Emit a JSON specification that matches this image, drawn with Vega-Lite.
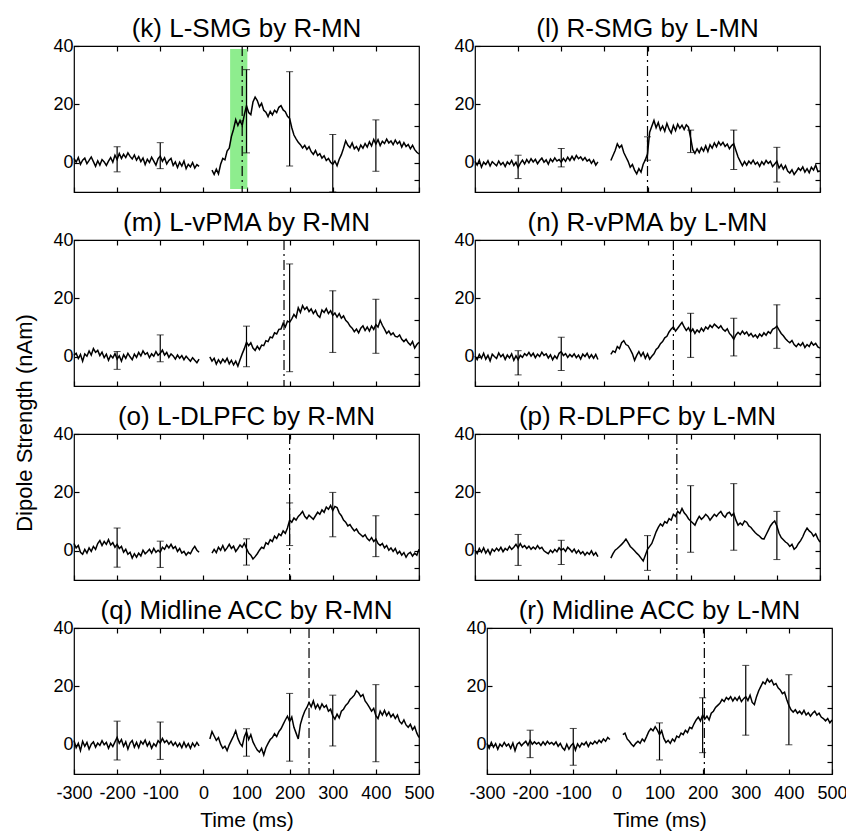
{
 "$schema": "https://vega.github.io/schema/vega-lite/v6.json",
 "padding": {"left": 14, "top": 15, "right": 10, "bottom": 0},
 "background": "white",
 "title": {"text": "Dipole Strength (nAm)", "orient": "left", "anchor": "middle", "fontSize": 22, "offset": -2, "frame": "bounds", "baseline": "alphabetic"},
 "datasets": {
  "k": [{"t":-300,"v":1.5},{"t":-295,"v":0.2},{"t":-290,"v":1.8},{"t":-285,"v":-0.5},{"t":-280,"v":0.9},{"t":-275,"v":1.6},{"t":-270,"v":-0.3},{"t":-265,"v":0.8},{"t":-260,"v":2.0},{"t":-255,"v":0.4},{"t":-250,"v":-1.2},{"t":-245,"v":0.7},{"t":-240,"v":-0.8},{"t":-235,"v":1.1},{"t":-230,"v":0.3},{"t":-225,"v":-0.9},{"t":-220,"v":0.6},{"t":-215,"v":1.8},{"t":-210,"v":0.2},{"t":-205,"v":2.6},{"t":-200,"v":1.1},{"t":-195,"v":3.2},{"t":-190,"v":1.5},{"t":-185,"v":2.9},{"t":-180,"v":1.8},{"t":-175,"v":3.4},{"t":-170,"v":2.2},{"t":-165,"v":1.3},{"t":-160,"v":2.7},{"t":-155,"v":0.9},{"t":-150,"v":2.1},{"t":-145,"v":0.4},{"t":-140,"v":1.6},{"t":-135,"v":-0.6},{"t":-130,"v":1.2},{"t":-125,"v":0.1},{"t":-120,"v":1.9},{"t":-115,"v":0.6},{"t":-110,"v":-0.8},{"t":-105,"v":1.4},{"t":-100,"v":2.3},{"t":-95,"v":0.5},{"t":-90,"v":1.7},{"t":-85,"v":-0.4},{"t":-80,"v":0.8},{"t":-75,"v":1.5},{"t":-70,"v":-0.9},{"t":-65,"v":0.3},{"t":-60,"v":-1.6},{"t":-55,"v":0.2},{"t":-50,"v":-1.1},{"t":-45,"v":0.6},{"t":-40,"v":-2.0},{"t":-35,"v":-0.5},{"t":-30,"v":-1.4},{"t":-25,"v":0.1},{"t":-20,"v":-1.8},{"t":-15,"v":-0.6},{"t":-10,"v":-1.2},{"t":0,"v":null},
   {"t":20,"v":-2.5},{"t":25,"v":-4.0},{"t":30,"v":-2.2},{"t":35,"v":-3.8},{"t":40,"v":-0.5},{"t":45,"v":1.5},{"t":50,"v":1.0},{"t":55,"v":4.0},{"t":60,"v":5.0},{"t":65,"v":9.0},{"t":70,"v":11.5},{"t":75,"v":14.8},{"t":80,"v":12.8},{"t":85,"v":14.5},{"t":90,"v":12.8},{"t":95,"v":16.5},{"t":100,"v":19.5},{"t":105,"v":17.2},{"t":110,"v":16.5},{"t":115,"v":20.8},{"t":120,"v":22.5},{"t":125,"v":21.3},{"t":130,"v":19.2},{"t":135,"v":20.4},{"t":140,"v":18.0},{"t":145,"v":17.3},{"t":150,"v":15.8},{"t":155,"v":17.6},{"t":160,"v":16.4},{"t":165,"v":18.0},{"t":170,"v":17.2},{"t":175,"v":19.0},{"t":180,"v":19.6},{"t":185,"v":18.1},{"t":190,"v":17.5},{"t":195,"v":15.9},{"t":200,"v":15.2},{"t":205,"v":12.0},{"t":210,"v":9.5},{"t":215,"v":8.2},{"t":220,"v":7.0},{"t":225,"v":6.2},{"t":230,"v":5.1},{"t":235,"v":6.0},{"t":240,"v":4.6},{"t":245,"v":5.5},{"t":250,"v":3.8},{"t":255,"v":2.9},{"t":260,"v":4.2},{"t":265,"v":2.5},{"t":270,"v":3.1},{"t":275,"v":1.6},{"t":280,"v":2.4},{"t":285,"v":0.8},{"t":290,"v":1.5},{"t":295,"v":0.2},{"t":300,"v":-0.5},{"t":305,"v":0.6},{"t":310,"v":-1.0},{"t":315,"v":1.2},{"t":320,"v":2.8},{"t":325,"v":5.0},{"t":330,"v":7.5},{"t":335,"v":6.0},{"t":340,"v":5.2},{"t":345,"v":6.8},{"t":350,"v":4.8},{"t":355,"v":5.6},{"t":360,"v":4.2},{"t":365,"v":6.1},{"t":370,"v":5.0},{"t":375,"v":6.6},{"t":380,"v":5.4},{"t":385,"v":7.2},{"t":390,"v":5.8},{"t":395,"v":8.0},{"t":400,"v":6.4},{"t":405,"v":7.9},{"t":410,"v":5.9},{"t":415,"v":7.4},{"t":420,"v":6.6},{"t":425,"v":8.1},{"t":430,"v":6.8},{"t":435,"v":7.5},{"t":440,"v":6.2},{"t":445,"v":7.8},{"t":450,"v":6.5},{"t":455,"v":7.3},{"t":460,"v":5.4},{"t":465,"v":6.9},{"t":470,"v":5.6},{"t":475,"v":6.3},{"t":480,"v":4.8},{"t":485,"v":6.0},{"t":490,"v":4.5},{"t":495,"v":3.6},{"t":500,"v":3.0}],
  "l": [{"t":-300,"v":0.5},{"t":-295,"v":-0.8},{"t":-290,"v":0.9},{"t":-285,"v":-1.5},{"t":-280,"v":0.2},{"t":-275,"v":-0.6},{"t":-270,"v":0.7},{"t":-265,"v":-1.1},{"t":-260,"v":0.4},{"t":-255,"v":-0.3},{"t":-250,"v":-1.0},{"t":-245,"v":0.6},{"t":-240,"v":-0.7},{"t":-235,"v":0.1},{"t":-230,"v":-1.3},{"t":-225,"v":0.3},{"t":-220,"v":-0.5},{"t":-215,"v":0.8},{"t":-210,"v":-0.9},{"t":-205,"v":0.2},{"t":-200,"v":-1.6},{"t":-195,"v":-0.2},{"t":-190,"v":0.9},{"t":-185,"v":-0.4},{"t":-180,"v":1.1},{"t":-175,"v":0.0},{"t":-170,"v":1.4},{"t":-165,"v":0.3},{"t":-160,"v":1.2},{"t":-155,"v":-0.3},{"t":-150,"v":0.8},{"t":-145,"v":1.6},{"t":-140,"v":0.2},{"t":-135,"v":1.0},{"t":-130,"v":-0.5},{"t":-125,"v":1.3},{"t":-120,"v":0.4},{"t":-115,"v":1.7},{"t":-110,"v":0.6},{"t":-105,"v":1.1},{"t":-100,"v":0.2},{"t":-95,"v":1.5},{"t":-90,"v":0.5},{"t":-85,"v":1.9},{"t":-80,"v":0.8},{"t":-75,"v":2.2},{"t":-70,"v":1.0},{"t":-65,"v":2.5},{"t":-60,"v":1.4},{"t":-55,"v":2.0},{"t":-50,"v":0.9},{"t":-45,"v":1.8},{"t":-40,"v":0.6},{"t":-35,"v":1.2},{"t":-30,"v":-0.2},{"t":-25,"v":0.9},{"t":-20,"v":-0.8},{"t":-15,"v":0.3},{"t":0,"v":null},
   {"t":15,"v":0.8},{"t":20,"v":2.5},{"t":25,"v":4.2},{"t":30,"v":6.5},{"t":35,"v":5.2},{"t":40,"v":6.0},{"t":45,"v":3.5},{"t":50,"v":2.0},{"t":55,"v":0.5},{"t":60,"v":-1.5},{"t":65,"v":-0.6},{"t":70,"v":-2.5},{"t":75,"v":-3.8},{"t":80,"v":-2.0},{"t":85,"v":-3.2},{"t":90,"v":-0.5},{"t":95,"v":1.0},{"t":100,"v":3.0},{"t":105,"v":10.5},{"t":110,"v":12.5},{"t":115,"v":14.5},{"t":120,"v":12.0},{"t":125,"v":13.8},{"t":130,"v":11.2},{"t":135,"v":12.6},{"t":140,"v":10.8},{"t":145,"v":13.5},{"t":150,"v":11.5},{"t":155,"v":10.2},{"t":160,"v":12.8},{"t":165,"v":11.0},{"t":170,"v":13.2},{"t":175,"v":11.8},{"t":180,"v":12.9},{"t":185,"v":11.4},{"t":190,"v":13.0},{"t":195,"v":12.2},{"t":200,"v":8.5},{"t":205,"v":4.5},{"t":210,"v":3.2},{"t":215,"v":4.8},{"t":220,"v":3.5},{"t":225,"v":5.2},{"t":230,"v":4.0},{"t":235,"v":5.8},{"t":240,"v":3.9},{"t":245,"v":6.2},{"t":250,"v":5.0},{"t":255,"v":6.8},{"t":260,"v":5.5},{"t":265,"v":7.2},{"t":270,"v":6.0},{"t":275,"v":7.0},{"t":280,"v":5.6},{"t":285,"v":6.4},{"t":290,"v":4.8},{"t":295,"v":5.9},{"t":300,"v":6.5},{"t":305,"v":4.2},{"t":310,"v":2.0},{"t":315,"v":0.5},{"t":320,"v":-1.0},{"t":325,"v":0.4},{"t":330,"v":-0.8},{"t":335,"v":0.6},{"t":340,"v":-0.3},{"t":345,"v":0.9},{"t":350,"v":-0.5},{"t":355,"v":0.2},{"t":360,"v":-1.2},{"t":365,"v":0.4},{"t":370,"v":-0.6},{"t":375,"v":0.8},{"t":380,"v":-0.2},{"t":385,"v":0.5},{"t":390,"v":-1.3},{"t":395,"v":-0.4},{"t":400,"v":0.5},{"t":405,"v":-1.8},{"t":410,"v":-0.6},{"t":415,"v":-2.2},{"t":420,"v":-1.0},{"t":425,"v":-2.8},{"t":430,"v":-3.5},{"t":435,"v":-2.4},{"t":440,"v":-4.0},{"t":445,"v":-3.0},{"t":450,"v":-1.8},{"t":455,"v":-2.6},{"t":460,"v":-1.4},{"t":465,"v":-3.2},{"t":470,"v":-2.0},{"t":475,"v":-3.4},{"t":480,"v":-1.5},{"t":485,"v":-2.5},{"t":490,"v":-0.8},{"t":495,"v":-3.0},{"t":500,"v":-2.8}],
  "m": [{"t":-300,"v":0.5},{"t":-295,"v":1.2},{"t":-290,"v":-0.6},{"t":-285,"v":0.8},{"t":-280,"v":-1.5},{"t":-275,"v":1.0},{"t":-270,"v":0.2},{"t":-265,"v":2.0},{"t":-260,"v":0.6},{"t":-255,"v":2.8},{"t":-250,"v":1.5},{"t":-245,"v":2.2},{"t":-240,"v":0.4},{"t":-235,"v":1.6},{"t":-230,"v":-0.3},{"t":-225,"v":0.9},{"t":-220,"v":-1.2},{"t":-215,"v":0.5},{"t":-210,"v":-0.4},{"t":-205,"v":1.1},{"t":-200,"v":-0.8},{"t":-195,"v":0.3},{"t":-190,"v":-1.5},{"t":-185,"v":0.7},{"t":-180,"v":-0.5},{"t":-175,"v":1.2},{"t":-170,"v":0.0},{"t":-165,"v":-1.0},{"t":-160,"v":0.9},{"t":-155,"v":-0.2},{"t":-150,"v":1.5},{"t":-145,"v":0.3},{"t":-140,"v":2.0},{"t":-135,"v":0.8},{"t":-130,"v":1.4},{"t":-125,"v":-0.3},{"t":-120,"v":1.0},{"t":-115,"v":0.2},{"t":-110,"v":1.8},{"t":-105,"v":0.5},{"t":-100,"v":1.2},{"t":-95,"v":2.3},{"t":-90,"v":0.6},{"t":-85,"v":1.5},{"t":-80,"v":-0.2},{"t":-75,"v":1.0},{"t":-70,"v":0.3},{"t":-65,"v":-0.8},{"t":-60,"v":0.6},{"t":-55,"v":-0.5},{"t":-50,"v":0.4},{"t":-45,"v":-1.0},{"t":-40,"v":0.2},{"t":-35,"v":-0.7},{"t":-30,"v":-1.5},{"t":-25,"v":-0.3},{"t":-20,"v":-1.2},{"t":-15,"v":-2.0},{"t":-10,"v":-0.8},{"t":0,"v":null},
   {"t":15,"v":0.0},{"t":20,"v":-1.5},{"t":25,"v":-0.5},{"t":30,"v":-2.5},{"t":35,"v":-1.0},{"t":40,"v":-2.2},{"t":45,"v":-0.8},{"t":50,"v":-1.8},{"t":55,"v":-0.5},{"t":60,"v":-2.4},{"t":65,"v":-1.2},{"t":70,"v":-2.8},{"t":75,"v":-1.5},{"t":80,"v":-3.2},{"t":85,"v":-1.0},{"t":90,"v":1.0},{"t":95,"v":2.8},{"t":100,"v":5.0},{"t":105,"v":3.8},{"t":110,"v":4.8},{"t":115,"v":3.0},{"t":120,"v":2.2},{"t":125,"v":3.6},{"t":130,"v":2.5},{"t":135,"v":4.0},{"t":140,"v":3.8},{"t":145,"v":5.5},{"t":150,"v":5.2},{"t":155,"v":6.8},{"t":160,"v":6.5},{"t":165,"v":8.2},{"t":170,"v":7.8},{"t":175,"v":9.4},{"t":180,"v":9.5},{"t":185,"v":11.5},{"t":190,"v":10.2},{"t":195,"v":12.2},{"t":200,"v":11.8},{"t":205,"v":13.0},{"t":210,"v":14.5},{"t":215,"v":13.5},{"t":220,"v":16.8},{"t":225,"v":15.2},{"t":230,"v":17.5},{"t":235,"v":16.2},{"t":240,"v":17.0},{"t":245,"v":15.5},{"t":250,"v":16.4},{"t":255,"v":14.8},{"t":260,"v":15.9},{"t":265,"v":14.2},{"t":270,"v":13.5},{"t":275,"v":16.0},{"t":280,"v":15.2},{"t":285,"v":16.5},{"t":290,"v":14.8},{"t":295,"v":15.8},{"t":300,"v":14.2},{"t":305,"v":15.0},{"t":310,"v":13.6},{"t":315,"v":14.8},{"t":320,"v":13.2},{"t":325,"v":14.0},{"t":330,"v":12.5},{"t":335,"v":11.8},{"t":340,"v":10.5},{"t":345,"v":9.8},{"t":350,"v":8.6},{"t":355,"v":9.5},{"t":360,"v":8.2},{"t":365,"v":9.8},{"t":370,"v":10.6},{"t":375,"v":9.0},{"t":380,"v":10.2},{"t":385,"v":8.8},{"t":390,"v":10.5},{"t":395,"v":9.4},{"t":400,"v":11.0},{"t":405,"v":10.2},{"t":410,"v":12.5},{"t":415,"v":10.8},{"t":420,"v":9.5},{"t":425,"v":8.0},{"t":430,"v":8.8},{"t":435,"v":7.5},{"t":440,"v":8.2},{"t":445,"v":7.0},{"t":450,"v":6.8},{"t":455,"v":7.5},{"t":460,"v":6.0},{"t":465,"v":5.2},{"t":470,"v":6.0},{"t":475,"v":4.8},{"t":480,"v":4.0},{"t":485,"v":5.2},{"t":490,"v":3.0},{"t":495,"v":4.2},{"t":500,"v":5.0}],
  "n": [{"t":-300,"v":0.2},{"t":-295,"v":-1.0},{"t":-290,"v":0.8},{"t":-285,"v":-0.5},{"t":-280,"v":1.2},{"t":-275,"v":-0.8},{"t":-270,"v":0.5},{"t":-265,"v":-1.4},{"t":-260,"v":0.9},{"t":-255,"v":0.1},{"t":-250,"v":-0.6},{"t":-245,"v":1.3},{"t":-240,"v":0.0},{"t":-235,"v":0.8},{"t":-230,"v":-0.9},{"t":-225,"v":0.6},{"t":-220,"v":-0.4},{"t":-215,"v":1.0},{"t":-210,"v":-1.2},{"t":-205,"v":0.3},{"t":-200,"v":-1.0},{"t":-195,"v":0.5},{"t":-190,"v":-0.2},{"t":-185,"v":1.1},{"t":-180,"v":0.4},{"t":-175,"v":1.5},{"t":-170,"v":0.2},{"t":-165,"v":1.2},{"t":-160,"v":-0.3},{"t":-155,"v":0.9},{"t":-150,"v":0.1},{"t":-145,"v":1.6},{"t":-140,"v":0.5},{"t":-135,"v":1.0},{"t":-130,"v":-0.4},{"t":-125,"v":0.7},{"t":-120,"v":-1.0},{"t":-115,"v":0.3},{"t":-110,"v":-0.6},{"t":-105,"v":1.2},{"t":-100,"v":1.8},{"t":-95,"v":0.4},{"t":-90,"v":1.1},{"t":-85,"v":-0.2},{"t":-80,"v":0.8},{"t":-75,"v":0.0},{"t":-70,"v":1.0},{"t":-65,"v":-0.3},{"t":-60,"v":0.6},{"t":-55,"v":-0.8},{"t":-50,"v":0.9},{"t":-45,"v":0.1},{"t":-40,"v":1.2},{"t":-35,"v":-0.4},{"t":-30,"v":0.7},{"t":-25,"v":-0.5},{"t":-20,"v":0.8},{"t":-15,"v":-0.9},{"t":0,"v":null},
   {"t":15,"v":0.8},{"t":20,"v":2.0},{"t":25,"v":1.5},{"t":30,"v":3.5},{"t":35,"v":2.8},{"t":40,"v":4.8},{"t":45,"v":5.5},{"t":50,"v":4.2},{"t":55,"v":3.8},{"t":60,"v":2.5},{"t":65,"v":1.0},{"t":70,"v":-1.2},{"t":75,"v":0.5},{"t":80,"v":1.8},{"t":85,"v":0.2},{"t":90,"v":1.5},{"t":95,"v":-0.5},{"t":100,"v":1.0},{"t":105,"v":-0.8},{"t":110,"v":0.2},{"t":115,"v":1.0},{"t":120,"v":2.5},{"t":125,"v":3.2},{"t":130,"v":4.5},{"t":135,"v":5.2},{"t":140,"v":6.5},{"t":145,"v":7.0},{"t":150,"v":8.5},{"t":155,"v":9.5},{"t":160,"v":10.2},{"t":165,"v":8.8},{"t":170,"v":9.8},{"t":175,"v":10.8},{"t":180,"v":11.8},{"t":185,"v":10.2},{"t":190,"v":9.0},{"t":195,"v":10.0},{"t":200,"v":8.5},{"t":205,"v":9.5},{"t":210,"v":8.0},{"t":215,"v":9.2},{"t":220,"v":8.4},{"t":225,"v":9.8},{"t":230,"v":8.8},{"t":235,"v":10.2},{"t":240,"v":9.5},{"t":245,"v":10.8},{"t":250,"v":10.0},{"t":255,"v":11.2},{"t":260,"v":10.5},{"t":265,"v":9.8},{"t":270,"v":10.6},{"t":275,"v":9.4},{"t":280,"v":8.8},{"t":285,"v":9.6},{"t":290,"v":8.0},{"t":295,"v":7.2},{"t":300,"v":6.0},{"t":305,"v":7.5},{"t":310,"v":8.4},{"t":315,"v":7.6},{"t":320,"v":8.8},{"t":325,"v":7.8},{"t":330,"v":8.5},{"t":335,"v":7.2},{"t":340,"v":8.0},{"t":345,"v":6.8},{"t":350,"v":7.5},{"t":355,"v":6.5},{"t":360,"v":7.8},{"t":365,"v":7.0},{"t":370,"v":8.2},{"t":375,"v":7.4},{"t":380,"v":8.6},{"t":385,"v":8.0},{"t":390,"v":9.4},{"t":395,"v":9.8},{"t":400,"v":10.5},{"t":405,"v":9.2},{"t":410,"v":8.0},{"t":415,"v":7.2},{"t":420,"v":6.2},{"t":425,"v":5.4},{"t":430,"v":4.8},{"t":435,"v":5.6},{"t":440,"v":4.2},{"t":445,"v":3.5},{"t":450,"v":4.5},{"t":455,"v":3.8},{"t":460,"v":4.8},{"t":465,"v":3.2},{"t":470,"v":4.2},{"t":475,"v":3.5},{"t":480,"v":5.0},{"t":485,"v":4.0},{"t":490,"v":4.6},{"t":495,"v":3.4},{"t":500,"v":3.0}],
  "o": [{"t":-300,"v":2.5},{"t":-295,"v":1.0},{"t":-290,"v":1.8},{"t":-285,"v":-0.5},{"t":-280,"v":-1.2},{"t":-275,"v":0.5},{"t":-270,"v":-0.8},{"t":-265,"v":1.0},{"t":-260,"v":-0.2},{"t":-255,"v":1.5},{"t":-250,"v":0.5},{"t":-245,"v":2.5},{"t":-240,"v":3.5},{"t":-235,"v":1.8},{"t":-230,"v":3.2},{"t":-225,"v":2.2},{"t":-220,"v":3.8},{"t":-215,"v":2.0},{"t":-210,"v":2.8},{"t":-205,"v":1.2},{"t":-200,"v":2.2},{"t":-195,"v":0.8},{"t":-190,"v":1.5},{"t":-185,"v":-0.5},{"t":-180,"v":0.5},{"t":-175,"v":-1.2},{"t":-170,"v":-0.5},{"t":-165,"v":-2.5},{"t":-160,"v":-1.0},{"t":-155,"v":-2.2},{"t":-150,"v":-0.8},{"t":-145,"v":-1.8},{"t":-140,"v":0.2},{"t":-135,"v":-1.0},{"t":-130,"v":-0.3},{"t":-125,"v":0.5},{"t":-120,"v":-0.8},{"t":-115,"v":0.8},{"t":-110,"v":-0.5},{"t":-105,"v":0.2},{"t":-100,"v":-0.5},{"t":-95,"v":1.2},{"t":-90,"v":0.5},{"t":-85,"v":2.0},{"t":-80,"v":1.0},{"t":-75,"v":2.2},{"t":-70,"v":0.8},{"t":-65,"v":1.5},{"t":-60,"v":-0.2},{"t":-55,"v":0.8},{"t":-50,"v":-0.8},{"t":-45,"v":-0.2},{"t":-40,"v":-1.5},{"t":-35,"v":-0.5},{"t":-30,"v":-1.0},{"t":-25,"v":0.5},{"t":-20,"v":1.5},{"t":-15,"v":0.2},{"t":-10,"v":-0.5},{"t":0,"v":null},
   {"t":20,"v":-0.8},{"t":25,"v":0.5},{"t":30,"v":-0.6},{"t":35,"v":1.2},{"t":40,"v":0.2},{"t":45,"v":1.8},{"t":50,"v":0.0},{"t":55,"v":1.0},{"t":60,"v":2.2},{"t":65,"v":0.8},{"t":70,"v":1.6},{"t":75,"v":-0.2},{"t":80,"v":0.8},{"t":85,"v":2.0},{"t":90,"v":1.2},{"t":95,"v":2.6},{"t":100,"v":0.8},{"t":105,"v":-0.8},{"t":110,"v":-1.5},{"t":115,"v":-2.8},{"t":120,"v":-2.0},{"t":125,"v":-1.0},{"t":130,"v":0.2},{"t":135,"v":1.2},{"t":140,"v":0.8},{"t":145,"v":2.8},{"t":150,"v":2.2},{"t":155,"v":3.8},{"t":160,"v":3.2},{"t":165,"v":5.0},{"t":170,"v":4.2},{"t":175,"v":5.8},{"t":180,"v":5.2},{"t":185,"v":6.8},{"t":190,"v":6.0},{"t":195,"v":7.8},{"t":200,"v":10.5},{"t":205,"v":9.8},{"t":210,"v":11.2},{"t":215,"v":10.5},{"t":220,"v":11.8},{"t":225,"v":12.5},{"t":230,"v":13.5},{"t":235,"v":11.8},{"t":240,"v":11.0},{"t":245,"v":12.2},{"t":250,"v":11.5},{"t":255,"v":10.8},{"t":260,"v":12.0},{"t":265,"v":13.2},{"t":270,"v":12.5},{"t":275,"v":14.0},{"t":280,"v":13.2},{"t":285,"v":15.0},{"t":290,"v":14.2},{"t":295,"v":15.5},{"t":300,"v":13.8},{"t":305,"v":15.2},{"t":310,"v":14.8},{"t":315,"v":13.0},{"t":320,"v":12.0},{"t":325,"v":10.5},{"t":330,"v":9.8},{"t":335,"v":8.5},{"t":340,"v":9.0},{"t":345,"v":7.8},{"t":350,"v":6.8},{"t":355,"v":7.5},{"t":360,"v":6.2},{"t":365,"v":5.5},{"t":370,"v":4.8},{"t":375,"v":5.5},{"t":380,"v":4.2},{"t":385,"v":3.5},{"t":390,"v":4.5},{"t":395,"v":3.2},{"t":400,"v":4.0},{"t":405,"v":2.5},{"t":410,"v":1.8},{"t":415,"v":2.5},{"t":420,"v":1.0},{"t":425,"v":1.8},{"t":430,"v":0.2},{"t":435,"v":1.0},{"t":440,"v":-0.2},{"t":445,"v":0.8},{"t":450,"v":-1.0},{"t":455,"v":-0.2},{"t":460,"v":-1.5},{"t":465,"v":-0.6},{"t":470,"v":-2.2},{"t":475,"v":-1.0},{"t":480,"v":-0.5},{"t":485,"v":-1.8},{"t":490,"v":-0.8},{"t":495,"v":-1.5},{"t":500,"v":0.5}],
  "p": [{"t":-300,"v":0.2},{"t":-295,"v":-1.0},{"t":-290,"v":0.8},{"t":-285,"v":-0.5},{"t":-280,"v":1.0},{"t":-275,"v":-0.8},{"t":-270,"v":0.4},{"t":-265,"v":-1.2},{"t":-260,"v":0.6},{"t":-255,"v":-0.2},{"t":-250,"v":0.9},{"t":-245,"v":0.0},{"t":-240,"v":1.2},{"t":-235,"v":-0.3},{"t":-230,"v":0.8},{"t":-225,"v":0.2},{"t":-220,"v":1.5},{"t":-215,"v":0.5},{"t":-210,"v":1.2},{"t":-205,"v":2.2},{"t":-200,"v":1.0},{"t":-195,"v":2.5},{"t":-190,"v":1.2},{"t":-185,"v":1.8},{"t":-180,"v":0.8},{"t":-175,"v":1.6},{"t":-170,"v":0.5},{"t":-165,"v":1.3},{"t":-160,"v":0.6},{"t":-155,"v":1.8},{"t":-150,"v":0.7},{"t":-145,"v":1.2},{"t":-140,"v":0.0},{"t":-135,"v":-0.5},{"t":-130,"v":-1.0},{"t":-125,"v":0.2},{"t":-120,"v":-0.6},{"t":-115,"v":0.5},{"t":-110,"v":-0.3},{"t":-105,"v":1.0},{"t":-100,"v":0.2},{"t":-95,"v":0.8},{"t":-90,"v":-0.2},{"t":-85,"v":1.2},{"t":-80,"v":0.5},{"t":-75,"v":-0.4},{"t":-70,"v":0.6},{"t":-65,"v":-0.8},{"t":-60,"v":0.2},{"t":-55,"v":-1.0},{"t":-50,"v":-0.3},{"t":-45,"v":-1.5},{"t":-40,"v":-0.5},{"t":-35,"v":-1.2},{"t":-30,"v":0.0},{"t":-25,"v":-1.5},{"t":-20,"v":-0.6},{"t":-15,"v":-2.0},{"t":0,"v":null},
   {"t":15,"v":-2.5},{"t":20,"v":-1.0},{"t":25,"v":0.2},{"t":30,"v":0.8},{"t":35,"v":1.5},{"t":40,"v":2.2},{"t":45,"v":3.0},{"t":50,"v":4.0},{"t":55,"v":2.8},{"t":60,"v":1.5},{"t":65,"v":0.8},{"t":70,"v":0.0},{"t":75,"v":-0.8},{"t":80,"v":-1.5},{"t":85,"v":-2.5},{"t":90,"v":-3.5},{"t":95,"v":-1.5},{"t":100,"v":0.5},{"t":105,"v":1.5},{"t":110,"v":2.5},{"t":115,"v":4.5},{"t":120,"v":6.5},{"t":125,"v":8.0},{"t":130,"v":9.2},{"t":135,"v":8.5},{"t":140,"v":10.0},{"t":145,"v":9.5},{"t":150,"v":11.0},{"t":155,"v":10.5},{"t":160,"v":12.5},{"t":165,"v":11.8},{"t":170,"v":13.5},{"t":175,"v":12.8},{"t":180,"v":14.5},{"t":185,"v":13.0},{"t":190,"v":12.2},{"t":195,"v":11.0},{"t":200,"v":10.2},{"t":205,"v":9.5},{"t":210,"v":8.8},{"t":215,"v":10.5},{"t":220,"v":11.8},{"t":225,"v":10.8},{"t":230,"v":11.5},{"t":235,"v":12.5},{"t":240,"v":11.8},{"t":245,"v":10.5},{"t":250,"v":11.5},{"t":255,"v":12.5},{"t":260,"v":11.8},{"t":265,"v":12.8},{"t":270,"v":13.5},{"t":275,"v":12.2},{"t":280,"v":11.5},{"t":285,"v":12.8},{"t":290,"v":13.2},{"t":295,"v":12.0},{"t":300,"v":12.8},{"t":305,"v":10.5},{"t":310,"v":8.8},{"t":315,"v":9.5},{"t":320,"v":8.8},{"t":325,"v":10.2},{"t":330,"v":9.8},{"t":335,"v":8.5},{"t":340,"v":8.0},{"t":345,"v":7.0},{"t":350,"v":6.2},{"t":355,"v":5.5},{"t":360,"v":5.0},{"t":365,"v":4.2},{"t":370,"v":4.0},{"t":375,"v":5.5},{"t":380,"v":7.0},{"t":385,"v":8.5},{"t":390,"v":9.5},{"t":395,"v":10.2},{"t":400,"v":8.5},{"t":405,"v":6.0},{"t":410,"v":4.5},{"t":415,"v":3.8},{"t":420,"v":3.0},{"t":425,"v":2.5},{"t":430,"v":1.5},{"t":435,"v":2.2},{"t":440,"v":0.5},{"t":445,"v":1.2},{"t":450,"v":2.5},{"t":455,"v":3.5},{"t":460,"v":4.8},{"t":465,"v":6.5},{"t":470,"v":7.8},{"t":475,"v":6.8},{"t":480,"v":6.2},{"t":485,"v":5.0},{"t":490,"v":5.8},{"t":495,"v":4.2},{"t":500,"v":3.0}],
  "q": [{"t":-300,"v":1.5},{"t":-295,"v":-1.0},{"t":-290,"v":0.5},{"t":-285,"v":-2.0},{"t":-280,"v":1.2},{"t":-275,"v":-0.5},{"t":-270,"v":0.8},{"t":-265,"v":-1.5},{"t":-260,"v":0.2},{"t":-255,"v":1.0},{"t":-250,"v":-0.8},{"t":-245,"v":0.6},{"t":-240,"v":-0.2},{"t":-235,"v":1.4},{"t":-230,"v":0.0},{"t":-225,"v":0.8},{"t":-220,"v":-1.2},{"t":-215,"v":0.5},{"t":-210,"v":-0.6},{"t":-205,"v":1.0},{"t":-200,"v":2.5},{"t":-195,"v":0.5},{"t":-190,"v":1.8},{"t":-185,"v":-0.5},{"t":-180,"v":1.0},{"t":-175,"v":-1.5},{"t":-170,"v":0.6},{"t":-165,"v":1.5},{"t":-160,"v":-0.8},{"t":-155,"v":0.8},{"t":-150,"v":-1.0},{"t":-145,"v":1.2},{"t":-140,"v":0.2},{"t":-135,"v":1.6},{"t":-130,"v":-0.4},{"t":-125,"v":0.9},{"t":-120,"v":-1.2},{"t":-115,"v":0.4},{"t":-110,"v":-0.5},{"t":-105,"v":1.4},{"t":-100,"v":0.6},{"t":-95,"v":2.2},{"t":-90,"v":0.8},{"t":-85,"v":1.5},{"t":-80,"v":0.2},{"t":-75,"v":1.2},{"t":-70,"v":-0.2},{"t":-65,"v":0.8},{"t":-60,"v":-0.6},{"t":-55,"v":0.5},{"t":-50,"v":-1.0},{"t":-45,"v":0.9},{"t":-40,"v":-0.8},{"t":-35,"v":0.4},{"t":-30,"v":-1.2},{"t":-25,"v":0.6},{"t":-20,"v":-0.6},{"t":-15,"v":0.8},{"t":-10,"v":-0.4},{"t":0,"v":null},
   {"t":15,"v":2.0},{"t":20,"v":4.5},{"t":25,"v":3.0},{"t":30,"v":1.5},{"t":35,"v":2.5},{"t":40,"v":0.2},{"t":45,"v":-1.2},{"t":50,"v":-0.5},{"t":55,"v":-2.0},{"t":60,"v":0.0},{"t":65,"v":1.5},{"t":70,"v":3.0},{"t":75,"v":4.8},{"t":80,"v":2.2},{"t":85,"v":0.5},{"t":90,"v":-0.5},{"t":95,"v":2.8},{"t":100,"v":4.5},{"t":105,"v":1.8},{"t":110,"v":3.5},{"t":115,"v":1.0},{"t":120,"v":-0.5},{"t":125,"v":-1.8},{"t":130,"v":-2.5},{"t":135,"v":-1.2},{"t":140,"v":-3.5},{"t":145,"v":-1.0},{"t":150,"v":0.5},{"t":155,"v":1.8},{"t":160,"v":2.5},{"t":165,"v":3.8},{"t":170,"v":2.8},{"t":175,"v":4.5},{"t":180,"v":5.5},{"t":185,"v":7.0},{"t":190,"v":8.5},{"t":195,"v":9.8},{"t":200,"v":8.0},{"t":205,"v":9.5},{"t":210,"v":6.0},{"t":215,"v":4.0},{"t":220,"v":2.0},{"t":225,"v":7.0},{"t":230,"v":9.5},{"t":235,"v":11.5},{"t":240,"v":12.8},{"t":245,"v":14.5},{"t":250,"v":13.0},{"t":255,"v":15.0},{"t":260,"v":12.5},{"t":265,"v":13.8},{"t":270,"v":12.2},{"t":275,"v":14.0},{"t":280,"v":12.8},{"t":285,"v":13.5},{"t":290,"v":11.5},{"t":295,"v":12.2},{"t":300,"v":10.0},{"t":305,"v":8.8},{"t":310,"v":10.5},{"t":315,"v":9.2},{"t":320,"v":11.5},{"t":325,"v":12.2},{"t":330,"v":13.5},{"t":335,"v":14.2},{"t":340,"v":15.5},{"t":345,"v":16.2},{"t":350,"v":17.0},{"t":355,"v":18.5},{"t":360,"v":17.8},{"t":365,"v":16.5},{"t":370,"v":17.2},{"t":375,"v":15.0},{"t":380,"v":14.0},{"t":385,"v":12.8},{"t":390,"v":11.5},{"t":395,"v":12.5},{"t":400,"v":10.0},{"t":405,"v":9.0},{"t":410,"v":11.5},{"t":415,"v":10.2},{"t":420,"v":11.8},{"t":425,"v":10.0},{"t":430,"v":11.2},{"t":435,"v":9.5},{"t":440,"v":10.5},{"t":445,"v":9.0},{"t":450,"v":10.2},{"t":455,"v":8.0},{"t":460,"v":7.2},{"t":465,"v":8.5},{"t":470,"v":6.8},{"t":475,"v":6.0},{"t":480,"v":7.0},{"t":485,"v":5.2},{"t":490,"v":6.2},{"t":495,"v":4.0},{"t":500,"v":2.5}],
  "r": [{"t":-300,"v":0.5},{"t":-295,"v":-1.2},{"t":-290,"v":0.8},{"t":-285,"v":-0.8},{"t":-280,"v":0.4},{"t":-275,"v":-1.5},{"t":-270,"v":0.2},{"t":-265,"v":-0.6},{"t":-260,"v":0.8},{"t":-255,"v":-0.4},{"t":-250,"v":0.3},{"t":-245,"v":-1.2},{"t":-240,"v":0.6},{"t":-235,"v":-2.0},{"t":-230,"v":0.2},{"t":-225,"v":0.8},{"t":-220,"v":-0.3},{"t":-215,"v":0.5},{"t":-210,"v":1.2},{"t":-205,"v":-0.2},{"t":-200,"v":1.5},{"t":-195,"v":0.2},{"t":-190,"v":1.0},{"t":-185,"v":0.3},{"t":-180,"v":0.8},{"t":-175,"v":-0.2},{"t":-170,"v":1.0},{"t":-165,"v":0.0},{"t":-160,"v":1.2},{"t":-155,"v":0.3},{"t":-150,"v":0.8},{"t":-145,"v":0.0},{"t":-140,"v":1.0},{"t":-135,"v":-0.5},{"t":-130,"v":0.5},{"t":-125,"v":-1.0},{"t":-120,"v":-1.8},{"t":-115,"v":0.2},{"t":-110,"v":-1.5},{"t":-105,"v":-0.2},{"t":-100,"v":0.5},{"t":-95,"v":-1.8},{"t":-90,"v":0.3},{"t":-85,"v":-0.8},{"t":-80,"v":0.6},{"t":-75,"v":0.0},{"t":-70,"v":1.0},{"t":-65,"v":-0.6},{"t":-60,"v":0.8},{"t":-55,"v":0.2},{"t":-50,"v":1.2},{"t":-45,"v":0.4},{"t":-40,"v":1.6},{"t":-35,"v":0.8},{"t":-30,"v":2.0},{"t":-25,"v":1.2},{"t":-20,"v":2.5},{"t":-15,"v":1.8},{"t":0,"v":null},
   {"t":15,"v":3.5},{"t":20,"v":4.0},{"t":25,"v":2.0},{"t":30,"v":1.2},{"t":35,"v":0.2},{"t":40,"v":-0.5},{"t":45,"v":0.5},{"t":50,"v":1.2},{"t":55,"v":0.5},{"t":60,"v":2.0},{"t":65,"v":1.2},{"t":70,"v":2.8},{"t":75,"v":4.5},{"t":80,"v":5.5},{"t":85,"v":4.8},{"t":90,"v":6.2},{"t":95,"v":5.0},{"t":100,"v":3.5},{"t":105,"v":4.8},{"t":110,"v":2.2},{"t":115,"v":0.8},{"t":120,"v":1.5},{"t":125,"v":0.5},{"t":130,"v":2.0},{"t":135,"v":1.2},{"t":140,"v":3.0},{"t":145,"v":2.5},{"t":150,"v":4.0},{"t":155,"v":3.5},{"t":160,"v":5.0},{"t":165,"v":4.2},{"t":170,"v":6.0},{"t":175,"v":5.5},{"t":180,"v":7.2},{"t":185,"v":8.5},{"t":190,"v":9.5},{"t":195,"v":8.2},{"t":200,"v":10.2},{"t":205,"v":8.8},{"t":210,"v":9.8},{"t":215,"v":8.5},{"t":220,"v":10.8},{"t":225,"v":11.5},{"t":230,"v":12.8},{"t":235,"v":13.5},{"t":240,"v":14.2},{"t":245,"v":15.5},{"t":250,"v":14.8},{"t":255,"v":16.2},{"t":260,"v":15.5},{"t":265,"v":16.5},{"t":270,"v":15.0},{"t":275,"v":16.2},{"t":280,"v":15.2},{"t":285,"v":16.5},{"t":290,"v":14.8},{"t":295,"v":15.8},{"t":300,"v":16.5},{"t":305,"v":15.2},{"t":310,"v":17.0},{"t":315,"v":14.5},{"t":320,"v":13.8},{"t":325,"v":16.5},{"t":330,"v":18.5},{"t":335,"v":20.0},{"t":340,"v":21.5},{"t":345,"v":20.8},{"t":350,"v":22.5},{"t":355,"v":21.5},{"t":360,"v":22.2},{"t":365,"v":20.5},{"t":370,"v":21.0},{"t":375,"v":19.5},{"t":380,"v":18.8},{"t":385,"v":17.5},{"t":390,"v":18.0},{"t":395,"v":15.5},{"t":400,"v":13.5},{"t":405,"v":12.0},{"t":410,"v":11.2},{"t":415,"v":12.0},{"t":420,"v":10.8},{"t":425,"v":11.5},{"t":430,"v":10.5},{"t":435,"v":11.8},{"t":440,"v":10.2},{"t":445,"v":11.0},{"t":450,"v":9.8},{"t":455,"v":10.8},{"t":460,"v":11.5},{"t":465,"v":10.2},{"t":470,"v":10.8},{"t":475,"v":9.5},{"t":480,"v":9.0},{"t":485,"v":8.2},{"t":490,"v":9.0},{"t":495,"v":7.5},{"t":500,"v":8.5}]
 },
 "spacing": 15,
 "vconcat": [
  {"hconcat": [
   {"width": 345, "height": 146, "title": "(k) L-SMG by R-MN", "resolve": {"axis": {"x": "independent", "y": "independent"}},
    "layer": [
     {"data": {"values": [{"a": 62, "b": 102, "lo": -9, "hi": 39}]}, "mark": {"type": "rect", "color": "#8EED8E"},
      "encoding": {"x": {"field": "a", "type": "quantitative", "axis": null, "scale": {"domain": [-300, 500], "nice": false, "zero": false}}, "x2": {"field": "b"}, "y": {"field": "lo", "type": "quantitative", "axis": null, "scale": {"domain": [-10, 40], "nice": false, "zero": false}}, "y2": {"field": "hi"}}},
     {"data": {"name": "k"}, "mark": {"type": "line", "color": "black", "strokeWidth": 1.5, "invalid": "break-paths-show-domains"},
      "encoding": {"x": {"field": "t", "type": "quantitative", "scale": {"domain": [-300, 500], "nice": false, "zero": false}, "axis": {"values": [-300, -200, -100, 0, 100, 200, 300, 400, 500], "labels": false, "title": null}}, "y": {"field": "v", "type": "quantitative", "scale": {"domain": [-10, 40], "nice": false, "zero": false}, "axis": {"values": [0, 20, 40], "title": null}}}},
     {"data": {"values": [{"t": -200, "lo": -3.1, "hi": 5.5}, {"t": -100, "lo": -2.0, "hi": 6.9}, {"t": 100, "lo": 3.4, "hi": 31.9}, {"t": 200, "lo": -1.1, "hi": 31.2}, {"t": 300, "lo": -10, "hi": 9.7}, {"t": 400, "lo": -2.9, "hi": 14.7}]},
      "mark": {"type": "errorbar", "ticks": {"size": 7, "color": "black"}, "rule": {"color": "black", "strokeWidth": 1.2}},
      "encoding": {"x": {"field": "t", "type": "quantitative", "axis": {"orient": "top", "values": [-200, -100, 0, 100, 200, 300, 400], "labels": false, "title": null}}, "y": {"field": "lo", "type": "quantitative", "axis": {"orient": "right", "values": [-6, 0, 12.5, 20], "labels": false, "title": null}}, "y2": {"field": "hi"}}},
     {"data": {"values": [{"c": 90}]}, "mark": {"type": "rule", "color": "black", "strokeDash": [10, 4, 2, 4], "strokeWidth": 1.2}, "encoding": {"x": {"field": "c", "type": "quantitative", "axis": null}}}
    ]},
   {"width": 345, "height": 146, "title": "(l) R-SMG by L-MN", "resolve": {"axis": {"x": "independent", "y": "independent"}},
    "layer": [
     {"data": {"name": "l"}, "mark": {"type": "line", "color": "black", "strokeWidth": 1.5, "invalid": "break-paths-show-domains"},
      "encoding": {"x": {"field": "t", "type": "quantitative", "scale": {"domain": [-300, 500], "nice": false, "zero": false}, "axis": {"values": [-300, -200, -100, 0, 100, 200, 300, 400, 500], "labels": false, "title": null}}, "y": {"field": "v", "type": "quantitative", "scale": {"domain": [-10, 40], "nice": false, "zero": false}, "axis": {"values": [0, 20, 40], "title": null}}}},
     {"data": {"values": [{"t": -200, "lo": -5.4, "hi": 2.6}, {"t": -100, "lo": -1.4, "hi": 4.9}, {"t": 100, "lo": 0.9, "hi": 8.9}, {"t": 200, "lo": 3.5, "hi": 11.2}, {"t": 300, "lo": -2.3, "hi": 11.2}, {"t": 400, "lo": -6.6, "hi": 5.3}]},
      "mark": {"type": "errorbar", "ticks": {"size": 7, "color": "black"}, "rule": {"color": "black", "strokeWidth": 1.2}},
      "encoding": {"x": {"field": "t", "type": "quantitative", "axis": {"orient": "top", "values": [-200, -100, 0, 100, 200, 300, 400], "labels": false, "title": null}}, "y": {"field": "lo", "type": "quantitative", "axis": {"orient": "right", "values": [-6, 0, 12.5, 20], "labels": false, "title": null}}, "y2": {"field": "hi"}}},
     {"data": {"values": [{"c": 100}]}, "mark": {"type": "rule", "color": "black", "strokeDash": [10, 4, 2, 4], "strokeWidth": 1.2}, "encoding": {"x": {"field": "c", "type": "quantitative", "axis": null}}}
    ]}
  ], "spacing": 30},
  {"hconcat": [
   {"width": 345, "height": 146, "title": "(m) L-vPMA by R-MN", "resolve": {"axis": {"x": "independent", "y": "independent"}},
    "layer": [
     {"data": {"name": "m"}, "mark": {"type": "line", "color": "black", "strokeWidth": 1.5, "invalid": "break-paths-show-domains"},
      "encoding": {"x": {"field": "t", "type": "quantitative", "scale": {"domain": [-300, 500], "nice": false, "zero": false}, "axis": {"values": [-300, -200, -100, 0, 100, 200, 300, 400, 500], "labels": false, "title": null}}, "y": {"field": "v", "type": "quantitative", "scale": {"domain": [-10, 40], "nice": false, "zero": false}, "axis": {"values": [0, 20, 40], "title": null}}}},
     {"data": {"values": [{"t": -200, "lo": -4.3, "hi": 1.8}, {"t": -100, "lo": -1.7, "hi": 7.5}, {"t": 100, "lo": -3.4, "hi": 10.5}, {"t": 200, "lo": -5.1, "hi": 31.8}, {"t": 300, "lo": 1.5, "hi": 22.6}, {"t": 400, "lo": 1.2, "hi": 19.7}]},
      "mark": {"type": "errorbar", "ticks": {"size": 7, "color": "black"}, "rule": {"color": "black", "strokeWidth": 1.2}},
      "encoding": {"x": {"field": "t", "type": "quantitative", "axis": {"orient": "top", "values": [-200, -100, 0, 100, 200, 300, 400], "labels": false, "title": null}}, "y": {"field": "lo", "type": "quantitative", "axis": {"orient": "right", "values": [-6, 0, 12.5, 20], "labels": false, "title": null}}, "y2": {"field": "hi"}}},
     {"data": {"values": [{"c": 187}]}, "mark": {"type": "rule", "color": "black", "strokeDash": [10, 4, 2, 4], "strokeWidth": 1.2}, "encoding": {"x": {"field": "c", "type": "quantitative", "axis": null}}}
    ]},
   {"width": 345, "height": 146, "title": "(n) R-vPMA by L-MN", "resolve": {"axis": {"x": "independent", "y": "independent"}},
    "layer": [
     {"data": {"name": "n"}, "mark": {"type": "line", "color": "black", "strokeWidth": 1.5, "invalid": "break-paths-show-domains"},
      "encoding": {"x": {"field": "t", "type": "quantitative", "scale": {"domain": [-300, 500], "nice": false, "zero": false}, "axis": {"values": [-300, -200, -100, 0, 100, 200, 300, 400, 500], "labels": false, "title": null}}, "y": {"field": "v", "type": "quantitative", "scale": {"domain": [-10, 40], "nice": false, "zero": false}, "axis": {"values": [0, 20, 40], "title": null}}}},
     {"data": {"values": [{"t": -200, "lo": -6.2, "hi": 2.1}, {"t": -100, "lo": -4.7, "hi": 6.7}, {"t": 200, "lo": -0.2, "hi": 14.9}, {"t": 300, "lo": 0.3, "hi": 13.2}, {"t": 400, "lo": 2.9, "hi": 17.8}]},
      "mark": {"type": "errorbar", "ticks": {"size": 7, "color": "black"}, "rule": {"color": "black", "strokeWidth": 1.2}},
      "encoding": {"x": {"field": "t", "type": "quantitative", "axis": {"orient": "top", "values": [-200, -100, 0, 100, 200, 300, 400], "labels": false, "title": null}}, "y": {"field": "lo", "type": "quantitative", "axis": {"orient": "right", "values": [-6, 0, 12.5, 20], "labels": false, "title": null}}, "y2": {"field": "hi"}}},
     {"data": {"values": [{"c": 160}]}, "mark": {"type": "rule", "color": "black", "strokeDash": [10, 4, 2, 4], "strokeWidth": 1.2}, "encoding": {"x": {"field": "c", "type": "quantitative", "axis": null}}}
    ]}
  ], "spacing": 30},
  {"hconcat": [
   {"width": 345, "height": 146, "title": "(o) L-DLPFC by R-MN", "resolve": {"axis": {"x": "independent", "y": "independent"}},
    "layer": [
     {"data": {"name": "o"}, "mark": {"type": "line", "color": "black", "strokeWidth": 1.5, "invalid": "break-paths-show-domains"},
      "encoding": {"x": {"field": "t", "type": "quantitative", "scale": {"domain": [-300, 500], "nice": false, "zero": false}, "axis": {"values": [-300, -200, -100, 0, 100, 200, 300, 400, 500], "labels": false, "title": null}}, "y": {"field": "v", "type": "quantitative", "scale": {"domain": [-10, 40], "nice": false, "zero": false}, "axis": {"values": [0, 20, 40], "title": null}}}},
     {"data": {"values": [{"t": -200, "lo": -5.6, "hi": 7.8}, {"t": -100, "lo": -5.7, "hi": 3.3}, {"t": 100, "lo": -4.9, "hi": 4.1}, {"t": 200, "lo": 1.8, "hi": 16.4}, {"t": 300, "lo": 4.8, "hi": 20.0}, {"t": 400, "lo": -2.0, "hi": 12.0}]},
      "mark": {"type": "errorbar", "ticks": {"size": 7, "color": "black"}, "rule": {"color": "black", "strokeWidth": 1.2}},
      "encoding": {"x": {"field": "t", "type": "quantitative", "axis": {"orient": "top", "values": [-200, -100, 0, 100, 200, 300, 400], "labels": false, "title": null}}, "y": {"field": "lo", "type": "quantitative", "axis": {"orient": "right", "values": [-6, 0, 12.5, 20], "labels": false, "title": null}}, "y2": {"field": "hi"}}},
     {"data": {"values": [{"c": 200}]}, "mark": {"type": "rule", "color": "black", "strokeDash": [10, 4, 2, 4], "strokeWidth": 1.2}, "encoding": {"x": {"field": "c", "type": "quantitative", "axis": null}}}
    ]},
   {"width": 345, "height": 146, "title": "(p) R-DLPFC by L-MN", "resolve": {"axis": {"x": "independent", "y": "independent"}},
    "layer": [
     {"data": {"name": "p"}, "mark": {"type": "line", "color": "black", "strokeWidth": 1.5, "invalid": "break-paths-show-domains"},
      "encoding": {"x": {"field": "t", "type": "quantitative", "scale": {"domain": [-300, 500], "nice": false, "zero": false}, "axis": {"values": [-300, -200, -100, 0, 100, 200, 300, 400, 500], "labels": false, "title": null}}, "y": {"field": "v", "type": "quantitative", "scale": {"domain": [-10, 40], "nice": false, "zero": false}, "axis": {"values": [0, 20, 40], "title": null}}}},
     {"data": {"values": [{"t": -200, "lo": -5.0, "hi": 5.6}, {"t": -100, "lo": -4.7, "hi": 3.6}, {"t": 100, "lo": -6.7, "hi": 5.2}, {"t": 200, "lo": -0.5, "hi": 22.3}, {"t": 300, "lo": 0.2, "hi": 23.0}, {"t": 400, "lo": -3.0, "hi": 13.5}]},
      "mark": {"type": "errorbar", "ticks": {"size": 7, "color": "black"}, "rule": {"color": "black", "strokeWidth": 1.2}},
      "encoding": {"x": {"field": "t", "type": "quantitative", "axis": {"orient": "top", "values": [-200, -100, 0, 100, 200, 300, 400], "labels": false, "title": null}}, "y": {"field": "lo", "type": "quantitative", "axis": {"orient": "right", "values": [-6, 0, 12.5, 20], "labels": false, "title": null}}, "y2": {"field": "hi"}}},
     {"data": {"values": [{"c": 168}]}, "mark": {"type": "rule", "color": "black", "strokeDash": [10, 4, 2, 4], "strokeWidth": 1.2}, "encoding": {"x": {"field": "c", "type": "quantitative", "axis": null}}}
    ]}
  ], "spacing": 30},
  {"hconcat": [
   {"width": 345, "height": 146, "title": "(q) Midline ACC by R-MN", "resolve": {"axis": {"x": "independent", "y": "independent"}},
    "layer": [
     {"data": {"name": "q"}, "mark": {"type": "line", "color": "black", "strokeWidth": 1.5, "invalid": "break-paths-show-domains"},
      "encoding": {"x": {"field": "t", "type": "quantitative", "scale": {"domain": [-300, 500], "nice": false, "zero": false}, "axis": {"values": [-300, -200, -100, 0, 100, 200, 300, 400, 500], "labelPadding": 15, "labelExpr": "'' + datum.value", "title": "Time (ms)", "titlePadding": 7}}, "y": {"field": "v", "type": "quantitative", "scale": {"domain": [-10, 40], "nice": false, "zero": false}, "axis": {"values": [0, 20, 40], "title": null}}}},
     {"data": {"values": [{"t": -200, "lo": -5.2, "hi": 8.1}, {"t": -100, "lo": -5.0, "hi": 7.8}, {"t": 100, "lo": -3.9, "hi": 5.5}, {"t": 200, "lo": -5.6, "hi": 17.6}, {"t": 300, "lo": -0.4, "hi": 17.0}, {"t": 400, "lo": -5.8, "hi": 20.6}]},
      "mark": {"type": "errorbar", "ticks": {"size": 7, "color": "black"}, "rule": {"color": "black", "strokeWidth": 1.2}},
      "encoding": {"x": {"field": "t", "type": "quantitative", "axis": {"orient": "top", "values": [-200, -100, 0, 100, 200, 300, 400], "labels": false, "title": null}}, "y": {"field": "lo", "type": "quantitative", "axis": {"orient": "right", "values": [-6, 0, 12.5, 20], "labels": false, "title": null}}, "y2": {"field": "hi"}}},
     {"data": {"values": [{"c": 245}]}, "mark": {"type": "rule", "color": "black", "strokeDash": [10, 4, 2, 4], "strokeWidth": 1.2}, "encoding": {"x": {"field": "c", "type": "quantitative", "axis": null}}}
    ]},
   {"width": 345, "height": 146, "title": "(r) Midline ACC by L-MN", "resolve": {"axis": {"x": "independent", "y": "independent"}},
    "layer": [
     {"data": {"name": "r"}, "mark": {"type": "line", "color": "black", "strokeWidth": 1.5, "invalid": "break-paths-show-domains"},
      "encoding": {"x": {"field": "t", "type": "quantitative", "scale": {"domain": [-300, 500], "nice": false, "zero": false}, "axis": {"values": [-300, -200, -100, 0, 100, 200, 300, 400, 500], "labelPadding": 15, "labelExpr": "'' + datum.value", "title": "Time (ms)", "titlePadding": 7}}, "y": {"field": "v", "type": "quantitative", "scale": {"domain": [-10, 40], "nice": false, "zero": false}, "axis": {"values": [0, 20, 40], "title": null}}}},
     {"data": {"values": [{"t": -200, "lo": -4.4, "hi": 5.0}, {"t": -100, "lo": -7.0, "hi": 5.6}, {"t": 100, "lo": -5.2, "hi": 7.5}, {"t": 200, "lo": -2.7, "hi": 16.1}, {"t": 300, "lo": 3.3, "hi": 27.2}, {"t": 400, "lo": 0.0, "hi": 24.0}]},
      "mark": {"type": "errorbar", "ticks": {"size": 7, "color": "black"}, "rule": {"color": "black", "strokeWidth": 1.2}},
      "encoding": {"x": {"field": "t", "type": "quantitative", "axis": {"orient": "top", "values": [-200, -100, 0, 100, 200, 300, 400], "labels": false, "title": null}}, "y": {"field": "lo", "type": "quantitative", "axis": {"orient": "right", "values": [-6, 0, 12.5, 20], "labels": false, "title": null}}, "y2": {"field": "hi"}}},
     {"data": {"values": [{"c": 204}]}, "mark": {"type": "rule", "color": "black", "strokeDash": [10, 4, 2, 4], "strokeWidth": 1.2}, "encoding": {"x": {"field": "c", "type": "quantitative", "axis": null}}}
    ]}
  ], "spacing": 30}
 ],
 "config": {
  "font": "Liberation Sans",
  "view": {"stroke": "black", "strokeWidth": 1.2},
  "axis": {"grid": false, "domain": false, "tickColor": "black", "tickSize": -5, "tickWidth": 1.2, "labelColor": "black", "labelFontSize": 18, "labelFont": "Liberation Sans", "labelPadding": 6, "labelFlush": false, "labelOverlap": false, "labelBound": false, "minExtent": 0, "titleFont": "Liberation Sans", "titleFontSize": 21, "titleFontWeight": "normal", "titleColor": "black"},
  "title": {"fontSize": 26, "fontWeight": "normal", "font": "Liberation Sans", "color": "black", "baseline": "alphabetic", "offset": -5, "anchor": "middle", "frame": "group"}
 }
}
